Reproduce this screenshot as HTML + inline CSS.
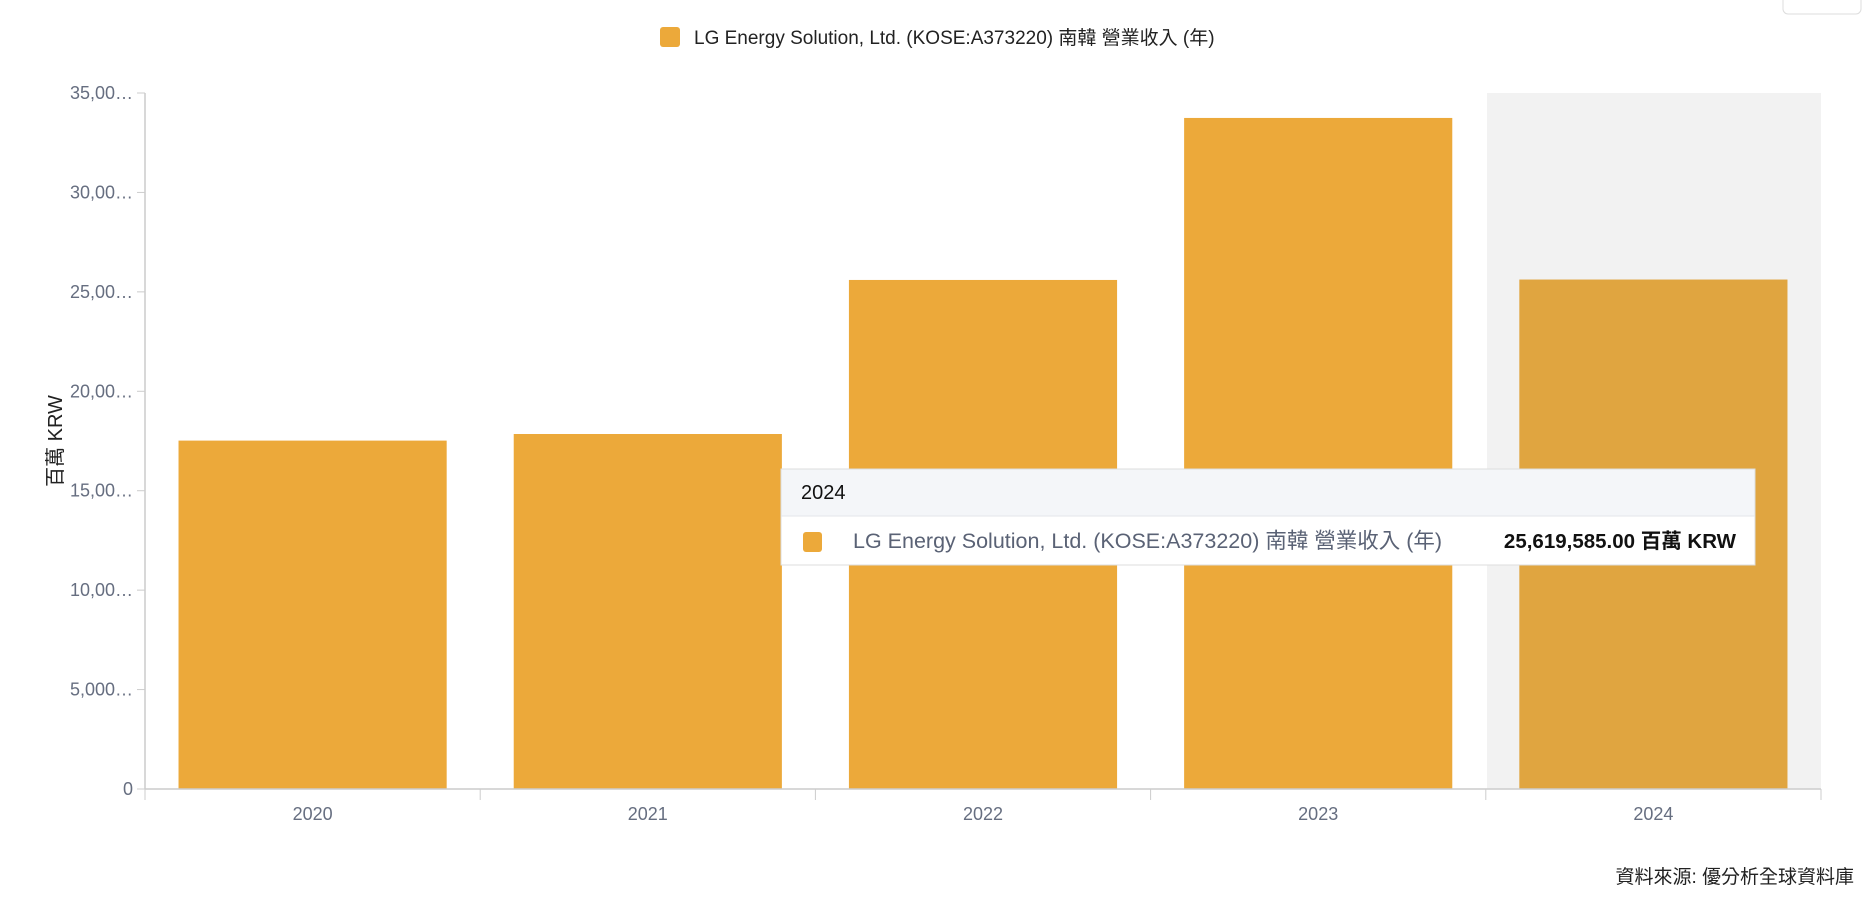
<!DOCTYPE html>
<html><head><meta charset="utf-8"><style>
body{margin:0;background:#fff;width:1864px;height:918px;overflow:hidden;font-family:"Liberation Sans","Noto Sans CJK TC",sans-serif;}
</style></head><body>
<svg width="1864" height="918" style="position:absolute;left:0;top:0">
<rect x="1783" y="-6" width="78" height="20" rx="5" fill="#fff" stroke="#ddd"/>
<g>
<rect x="660" y="27" width="20" height="20" rx="3" fill="#eca93a"/>
<text x="694" y="44" font-size="19" fill="#222">LG Energy Solution, Ltd. (KOSE:A373220) 南韓 營業收入 (年)</text>
</g>
<rect x="1487" y="93" width="334" height="696" fill="#f2f2f2"/>
<g id="bars"></g>
<line x1="145" y1="93" x2="145" y2="789" stroke="#ccc" stroke-width="1.5"/>
<line x1="145" y1="789" x2="1821" y2="789" stroke="#ccc" stroke-width="1.5"/>
<g id="yt"></g><g id="xt"></g>
<text transform="translate(62,441) rotate(-90)" text-anchor="middle" font-size="20" fill="#222">百萬 KRW</text>
<text x="1854" y="883" text-anchor="end" font-size="19" fill="#222">資料來源: 優分析全球資料庫</text>
<g>
<rect x="781" y="469" width="974" height="96" fill="#fff" stroke="#ddd"/>
<rect x="781.5" y="469.5" width="973" height="46" fill="#f4f6f9"/>
<line x1="781" y1="516" x2="1755" y2="516" stroke="#e3e6ea"/>
<text x="801" y="499" font-size="20" fill="#111">2024</text>
<rect x="803" y="532" width="19" height="20" rx="3" fill="#eca93a"/>
<text x="853" y="548" font-size="21.5" fill="#5a6275">LG Energy Solution, Ltd. (KOSE:A373220) 南韓 營業收入 (年)</text>
<text x="1736" y="548" text-anchor="end" font-size="20.5" font-weight="bold" fill="#111">25,619,585.00 百萬 KRW</text>
</g>
</svg>
<script>
const categories=["2020","2021","2022","2023","2024"];
const revenue=[17519900,17851900,25598600,33745500,25619585];
const yTicks=[0,5000,10000,15000,20000,25000,30000,35000];
const yTickLabels=["0","5,000…","10,00…","15,00…","20,00…","25,00…","30,00…","35,00…"];
const NS="http://www.w3.org/2000/svg";
const x0=145,x1=1821,y0=789,y1=93,yMax=35000000;
const band=(x1-x0)/categories.length;
const yS=v=>y0-(v/yMax)*(y0-y1);
const bars=document.getElementById('bars'),yt=document.getElementById('yt'),xt=document.getElementById('xt');
categories.forEach((c,i)=>{
 const r=document.createElementNS(NS,'rect');
 r.setAttribute('x',x0+i*band+band*0.1);r.setAttribute('width',band*0.8);
 r.setAttribute('y',yS(revenue[i]));r.setAttribute('height',y0-yS(revenue[i]));
 r.setAttribute('fill',i==4?'#e0a540':'#eca93a');
 
 
 bars.appendChild(r);
 const t=document.createElementNS(NS,'text');
 t.setAttribute('x',x0+(i+0.5)*band);t.setAttribute('y',820);t.setAttribute('text-anchor','middle');
 t.setAttribute('font-size','18');t.setAttribute('fill','#666e80');t.textContent=c;
 
 
 xt.appendChild(t);
 const l=document.createElementNS(NS,'line');
 l.setAttribute('x1',x0+i*band);l.setAttribute('x2',x0+i*band);l.setAttribute('y1',789);l.setAttribute('y2',800);l.setAttribute('stroke','#ccc');
 
 
 xt.appendChild(l);
});
const le=document.createElementNS(NS,'line');
le.setAttribute('x1',x1);le.setAttribute('x2',x1);le.setAttribute('y1',789);le.setAttribute('y2',800);le.setAttribute('stroke','#ccc');


xt.appendChild(le);
yTicks.forEach((v,i)=>{
 const y=yS(v*1000);
 const t=document.createElementNS(NS,'text');
 t.setAttribute('x',133);t.setAttribute('y',y+6);t.setAttribute('text-anchor','end');
 t.setAttribute('font-size','18');t.setAttribute('fill','#666e80');t.textContent=yTickLabels[i];
 
 
 yt.appendChild(t);
 const l=document.createElementNS(NS,'line');
 l.setAttribute('x1',137);l.setAttribute('x2',145);l.setAttribute('y1',y);l.setAttribute('y2',y);l.setAttribute('stroke','#ccc');
 
 
 yt.appendChild(l);
});
</script>
</body></html>
